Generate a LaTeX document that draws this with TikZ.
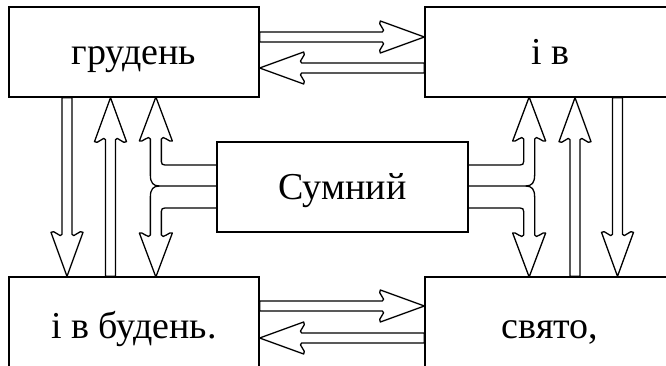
\documentclass[tikz,border=0pt]{standalone}
\usepackage{fontspec}
\setmainfont{Liberation Serif}
\usepackage{tikz}
\usetikzlibrary{calc}

\tikzset{box/.style={draw, line width=1.3pt, minimum width=250pt, minimum height=90pt,
    inner sep=0pt, text height=26pt, text depth=0pt, font=\fontsize{38}{42}\selectfont},
  arr/.style={line width=1.3pt, line join=round}}

% hollow arrow from #1 to #2
\newcommand{\fatarrow}[2]{%
  \path let \p1=($(#2)-(#1)$), \n1={veclen(\x1,\y1)}, \n2={atan2(\y1,\x1)} in
    \pgfextra{\xdef\falen{\n1}\xdef\faang{\n2}};
  \begin{scope}[shift={(#1)},rotate=\faang]
    \draw[arr] (0,-5)--(0,5)--(\falen-42,5) .. controls (\falen-37,6) and (\falen-48,13.5) .. (\falen-44,16)
      --(\falen,0)--(\falen-44,-16) .. controls (\falen-48,-13.5) and (\falen-37,-6) .. (\falen-42,-5)--cycle;
  \end{scope}}

\begin{document}
\begin{tikzpicture}[x=1pt,y=-1pt]
\useasboundingbox (0,0) rectangle (666,366);

%the boxes
    \node[box] (grud) at (134,52) {грудень};
    \node[box] (iv) at (550,52) {і в};
    \node[box, minimum height=96pt] (bud) at (134,325) {і в будень.};
    \node[box, minimum height=96pt] (svy) at (550,325) {свято,};
    \node[box, minimum width=251pt] (sum) at (342.5,187) {Сумний};

%end points of the arrows
    \coordinate (gi1) at ($(grud.east)+(0,-15)$);  \coordinate (gi2) at ($(iv.west)+(0,-15)$);
    \coordinate (ig1) at ($(iv.west)+(0,16)$);     \coordinate (ig2) at ($(grud.east)+(0,16)$);
    \coordinate (bs1) at ($(bud.east)+(0,-19)$);   \coordinate (bs2) at ($(svy.west)+(0,-19)$);
    \coordinate (sb1) at ($(svy.west)+(0,13)$);    \coordinate (sb2) at ($(bud.east)+(0,13)$);
    \coordinate (gb1) at ($(grud.south)+(-67,0)$); \coordinate (gb2) at ($(bud.north)+(-67,0)$);
    \coordinate (bg1) at ($(bud.north)+(-23.5,0)$);\coordinate (bg2) at ($(grud.south)+(-23.5,0)$);
    \coordinate (si1) at ($(svy.north)+(25,0)$);   \coordinate (si2) at ($(iv.south)+(25,0)$);
    \coordinate (is1) at ($(iv.south)+(67.5,0)$);  \coordinate (is2) at ($(svy.north)+(67.5,0)$);

    \foreach \s/\e in {gi1/gi2,ig1/ig2,bs1/bs2,sb1/sb2,gb1/gb2,bg1/bg2,si1/si2,is1/is2}
      \fatarrow{\s}{\e};

% the forks out of the middle box
    \foreach \side/\flip in {west/1,east/-1} {
    \begin{scope}[shift={(sum.\side)},xscale=\flip]
    \draw[arr] (0,-22)--(-51.5,-22) .. controls (-54,-22) and (-55,-23) .. (-55,-25.5)--(-55,-48)
      .. controls (-54,-53) and (-46,-43.5) .. (-44,-46)--(-60.5,-90)--(-77,-46)
      .. controls (-75,-43.5) and (-67,-53) .. (-66,-48)--(-66,-12)
      .. controls (-66,-4) and (-63,-1) .. (-57,-1)--(0,-1);
    \draw[arr] (-57,-1) .. controls (-63,-1) and (-66,2) .. (-66,10)--(-66,48)
      .. controls (-67,53) and (-75,43.5) .. (-77,46)--(-60.5,90)--(-44,46)
      .. controls (-46,43.5) and (-54,53) .. (-55,48)--(-55,24.5)
      .. controls (-55,22) and (-54,21) .. (-51.5,21)--(0,21);
    \end{scope}}
\end{tikzpicture}
\end{document}
